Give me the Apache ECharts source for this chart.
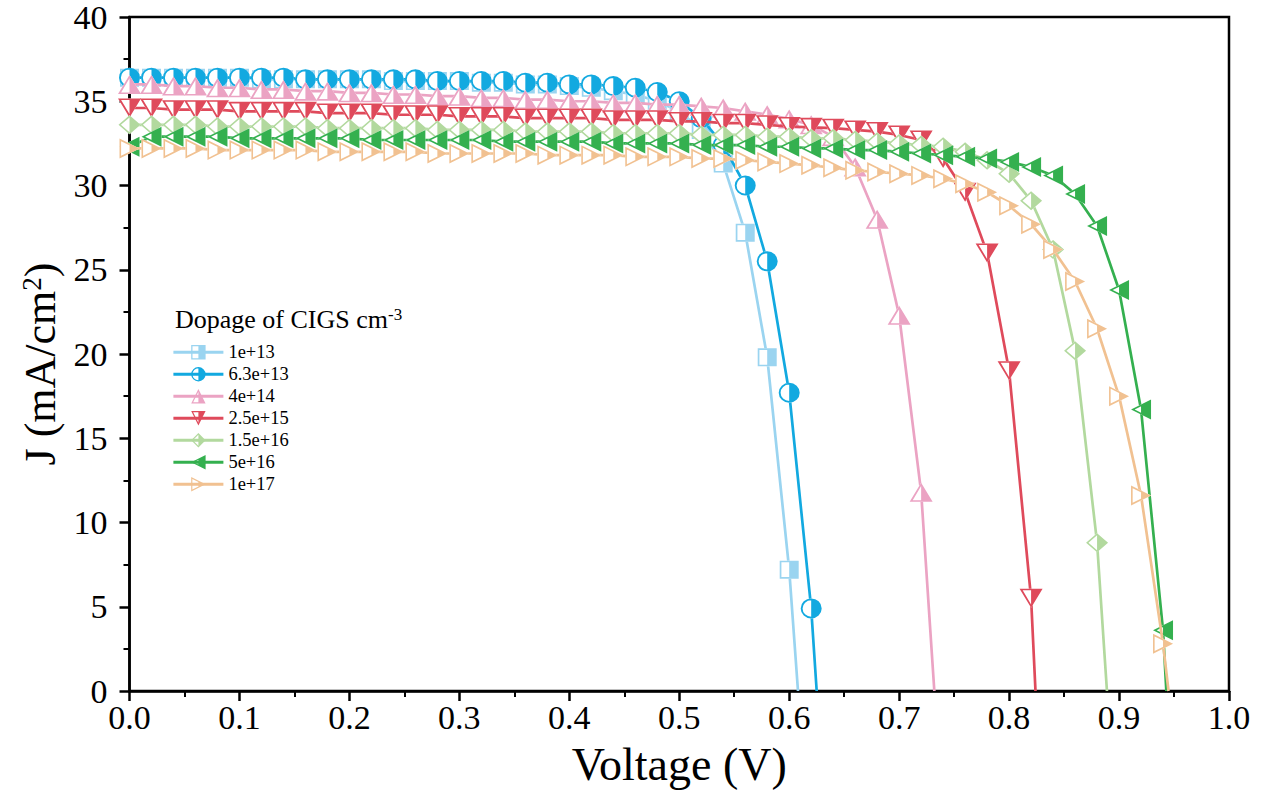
<!DOCTYPE html>
<html><head><meta charset="utf-8">
<script src="https://cdn.jsdelivr.net/npm/echarts@6/dist/echarts.min.js"></script>
<style>html,body{margin:0;padding:0;background:#fff;overflow:hidden}#c{width:1262px;height:792px}</style>
</head><body><div id="c"></div>
<script>
// ---- data ----
const voltage = [0.00,0.02,0.04,0.06,0.08,0.10,0.12,0.14,0.16,0.18,0.20,0.22,0.24,0.26,0.28,0.30,0.32,0.34,0.36,0.38,0.40,0.42,0.44,0.46,0.48,0.50,0.52,0.54,0.56,0.58,0.60,0.62,0.64,0.66,0.68,0.70,0.72,0.74,0.76,0.78,0.80,0.82,0.84,0.86,0.88,0.90,0.92,0.94];
const names = ['1e+13','6.3e+13','4e+14','2.5e+15','1.5e+16','5e+16','1e+17'];
const J_1e13 = [36.4,36.4,36.4,36.4,36.4,36.4,36.3,36.3,36.3,36.3,36.3,36.3,36.2,36.2,36.2,36.2,36.1,36.1,36.0,36.0,35.9,35.8,35.6,35.4,35.0,34.4,33.3,31.3,27.2,19.8,7.2];
const J_63e13 = [36.4,36.4,36.4,36.4,36.4,36.4,36.4,36.4,36.3,36.3,36.3,36.3,36.3,36.3,36.2,36.2,36.2,36.2,36.1,36.1,36.0,36.0,35.9,35.8,35.55,35.0,34.0,32.4,30.0,25.5,17.7,4.9];
const J_4e14 = [36.0,36.0,35.9,35.9,35.8,35.8,35.7,35.7,35.6,35.6,35.5,35.5,35.4,35.4,35.3,35.3,35.2,35.2,35.1,35.1,35.0,35.0,34.9,34.9,34.8,34.8,34.7,34.6,34.4,34.2,33.95,33.6,32.9,31.1,28.0,22.3,11.8];
const J_25e15 = [34.6,34.6,34.5,34.5,34.5,34.4,34.4,34.4,34.4,34.3,34.3,34.3,34.2,34.2,34.2,34.1,34.1,34.1,34.0,34.0,34.0,34.0,33.9,33.9,33.9,33.8,33.8,33.7,33.7,33.6,33.5,33.45,33.4,33.3,33.2,33.0,32.7,31.6,29.6,26.0,19.0,5.5];
const J_15e16 = [33.6,33.6,33.6,33.6,33.5,33.5,33.5,33.5,33.5,33.4,33.4,33.4,33.4,33.4,33.3,33.3,33.3,33.3,33.2,33.2,33.2,33.2,33.1,33.1,33.1,33.1,33.0,33.0,33.0,32.9,32.9,32.8,32.8,32.7,32.6,32.5,32.4,32.3,32.0,31.5,30.7,29.1,26.2,20.2,8.8];
const J_5e16 = [32.3,32.9,32.9,32.9,32.9,32.8,32.8,32.8,32.8,32.8,32.8,32.7,32.7,32.7,32.7,32.7,32.7,32.6,32.6,32.6,32.6,32.6,32.5,32.5,32.5,32.5,32.4,32.4,32.4,32.3,32.3,32.2,32.2,32.1,32.1,32.0,31.9,31.8,31.7,31.6,31.4,31.1,30.6,29.5,27.6,23.8,16.7,3.6];
const J_1e17 = [32.2,32.2,32.2,32.2,32.1,32.1,32.1,32.1,32.1,32.0,32.0,32.0,32.0,32.0,31.9,31.9,31.9,31.9,31.9,31.8,31.8,31.8,31.8,31.7,31.7,31.7,31.6,31.6,31.5,31.4,31.3,31.2,31.05,30.9,30.8,30.7,30.6,30.4,30.1,29.6,28.8,27.7,26.2,24.3,21.5,17.5,11.6,2.8];
const Voc = [0.608,0.625,0.732,0.824,0.889,0.943,0.945];
const xTicks = [0,0.1,0.2,0.3,0.4,0.5,0.6,0.7,0.8,0.9,1.0];
const yTicks = [0,5,10,15,20,25,30,35,40];

// ---- styling ----
const J = [J_1e13,J_63e13,J_4e14,J_25e15,J_15e16,J_5e16,J_1e17];
const colors = ['#9AD4F0','#12A9E0','#EBA3C3','#DF4A5B','#B2D99E','#34B04F','#F1C191'];
const FONT = '"Liberation Serif","Times New Roman",serif';
// outline + half filled (nonzero fill rule: inner ring reversed)
const HALF = {
  square:'M0 0 L100 0 L100 100 L0 100 Z M9 9 L9 91 L91 91 L91 9 Z M50 0 L100 0 L100 100 L50 100 Z',
  circle:'M50 0 A50 50 0 1 1 50 100 A50 50 0 1 1 50 0 Z M50 9 A41 41 0 1 0 50 91 A41 41 0 1 0 50 9 Z M50 0 A50 50 0 0 1 50 100 Z',
  up:'M50 0 L100 100 L0 100 Z M50 18 L13.5 92 L86.5 92 Z M50 0 L100 100 L50 100 Z',
  down:'M0 0 L100 0 L50 100 Z M50 82 L86.5 8 L13.5 8 Z M50 0 L100 0 L50 100 Z',
  diamond:'M50 0 L100 50 L50 100 L0 50 Z M50 11 L11 50 L50 89 L89 50 Z M50 0 L100 50 L50 100 Z',
  left:'M0 50 L100 0 L100 100 Z M18 50 L92 86.5 L92 13.5 Z M50 25 L100 0 L100 100 L50 75 Z',
  right:'M0 0 L100 50 L0 100 Z M8 86.5 L82 50 L8 13.5 Z M50 25 L100 50 L50 75 Z'
};
const FULL = {
  square:'M0 0 L100 0 L100 100 L0 100 Z',
  circle:'M50 0 A50 50 0 1 1 50 100 A50 50 0 1 1 50 0 Z',
  up:'M50 0 L100 100 L0 100 Z',
  down:'M0 0 L100 0 L50 100 Z',
  diamond:'M50 0 L100 50 L50 100 L0 50 Z',
  left:'M0 50 L100 0 L100 100 Z',
  right:'M0 0 L100 50 L0 100 Z'
};
const shapes = ['square','circle','up','down','diamond','left','right'];
const sizes = [[19,18],[21,20],[23,19],[23,19],[22,19],[20,20],[20,20]];

const series = [];
names.forEach((n,i)=>{
  const pts = J[i].map((y,k)=>[voltage[k],y]);
  series.push({type:'line',name:n,data:pts,symbol:'path://'+HALF[shapes[i]],symbolSize:sizes[i],
    itemStyle:{color:colors[i]},lineStyle:{width:0,color:colors[i]},z:10+3*i+2,silent:true,animation:false});
});
names.forEach((n,i)=>{
  const pts = J[i].map((y,k)=>[voltage[k],y]);
  const linePts = pts.concat([[Voc[i],0]]);
  series.push({type:'line',name:n,data:pts,symbol:'path://'+FULL[shapes[i]],symbolSize:sizes[i],
    itemStyle:{color:'#fff'},lineStyle:{width:0,color:'#fff'},z:10+3*i+1,silent:true,animation:false});
  series.push({type:'line',name:n,data:linePts,symbol:'none',
    lineStyle:{width:2.7,color:colors[i]},z:10+3*i,silent:true,animation:false});
});

const chart = echarts.init(document.getElementById('c'),null,{renderer:'svg'});
chart.setOption({
  backgroundColor:'#fff',
  animation:false,
  title:{text:'Dopage of CIGS cm{sup|-3}',left:175,top:306,padding:0,
    textStyle:{fontFamily:FONT,fontSize:26,fontWeight:'normal',color:'#000',lineHeight:27,
      rich:{sup:{fontFamily:FONT,fontSize:17,verticalAlign:'top',lineHeight:17,color:'#000'}}}},
  legend:{orient:'vertical',left:172,top:342.75,padding:0,itemWidth:50,itemHeight:18,itemGap:3,
    data:names,selectedMode:false,lineStyle:{width:2.8},
    textStyle:{fontFamily:FONT,fontSize:18.5,color:'#000'}},
  grid:{left:129.5,top:17,width:1099.5,height:675.5,show:true,borderColor:'#000',borderWidth:2.5,backgroundColor:'transparent'},
  xAxis:{type:'value',min:xTicks[0],max:xTicks[xTicks.length-1],interval:0.1,
    name:'Voltage (V)',nameLocation:'middle',nameGap:50,
    nameTextStyle:{fontFamily:FONT,fontSize:46,color:'#000'},
    axisLine:{lineStyle:{color:'#000',width:2.5}},
    axisTick:{inside:false,length:10,lineStyle:{color:'#000',width:2.5}},
    minorTick:{show:true,splitNumber:2,length:6,lineStyle:{color:'#000',width:2}},
    splitLine:{show:false},
    axisLabel:{margin:9,fontFamily:FONT,fontSize:34,color:'#000',formatter:v=>v.toFixed(1)}},
  yAxis:{type:'value',min:yTicks[0],max:yTicks[yTicks.length-1],interval:5,
    name:'J (mA/cm{sup|2})',nameLocation:'middle',nameGap:66,
    nameTextStyle:{fontFamily:FONT,fontSize:44,color:'#000',padding:[0,20,0,0],
      rich:{sup:{fontFamily:FONT,fontSize:27,verticalAlign:'top',lineHeight:27,color:'#000'}}},
    axisLine:{lineStyle:{color:'#000',width:2.5}},
    axisTick:{inside:false,length:10,lineStyle:{color:'#000',width:2.5}},
    minorTick:{show:true,splitNumber:2,length:6,lineStyle:{color:'#000',width:2}},
    splitLine:{show:false},
    axisLabel:{margin:22,fontFamily:FONT,fontSize:34,color:'#000'}},
  series:series
});
</script></body></html>
